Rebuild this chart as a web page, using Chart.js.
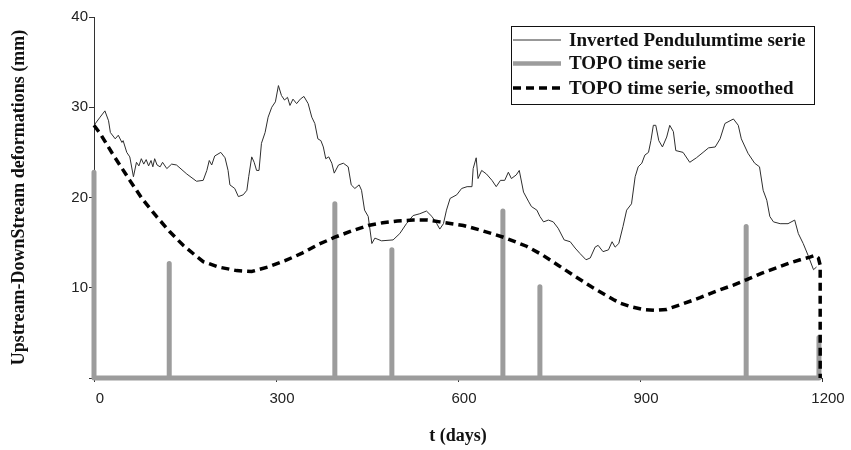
<!DOCTYPE html>
<html><head><meta charset="utf-8">
<script src="https://cdn.jsdelivr.net/npm/chart.js@4/dist/chart.umd.min.js"></script>
<style>html,body{margin:0;padding:0;background:#fff}#wrap{width:851px;height:450px}</style>
</head><body><div id="wrap"><canvas id="c" width="851" height="450"></canvas></div>
<script>
// ---- data ----
const seriesLabels = ['Inverted Pendulumtime serie', 'TOPO time serie', 'TOPO time serie, smoothed'];
const xTickValues = [0, 300, 600, 900, 1200];
const yTickValues = [0, 10, 20, 30, 40];

const pendT = [0,10,18,24,27,35,40,46,48,54,59,65,70,74,78,82,86,90,94,97,100,104,109,113,120,128,136,153,169,180,186,190,194,199,209,216,221,224,232,238,246,252,255,260,264,268,272,276,282,287,293,299,304,309,314,319,323,328,334,340,346,353,359,364,369,374,378,382,387,392,396,403,411,419,424,430,437,441,446,452,458,463,474,493,504,515,526,537,548,557,565,570,576,581,587,598,606,615,623,625,630,633,639,647,656,663,670,677,683,688,696,701,708,716,721,730,735,741,749,757,765,775,785,793,801,811,818,826,831,839,848,854,859,865,872,878,886,892,897,903,908,914,918,922,926,931,937,944,949,955,959,971,982,993,1004,1013,1024,1032,1040,1054,1062,1067,1078,1089,1097,1103,1109,1114,1120,1131,1144,1155,1161,1169,1177,1186,1191];
const pendV = [28.0,28.9,29.6,28.5,27.2,26.5,26.9,26.1,26.3,25.0,24.5,22.3,23.9,23.5,24.3,23.7,24.2,23.5,24.1,23.4,24.3,23.6,23.4,23.9,23.2,23.7,23.6,22.6,21.8,21.9,23.0,24.1,23.6,24.6,25.0,24.4,23.0,21.4,21.0,20.1,20.3,20.8,22.3,24.5,23.9,23.0,23.0,26.0,27.2,28.9,30.0,30.6,32.4,31.3,30.8,31.1,30.2,30.9,30.4,30.9,31.2,30.4,28.9,28.2,26.5,26.3,25.6,24.3,24.5,23.8,22.7,23.6,23.8,23.4,21.4,21.0,21.4,20.8,18.6,17.9,14.9,15.5,15.2,15.3,16.0,17.1,18.0,18.2,18.5,17.9,17.1,16.5,17.1,18.6,19.9,20.3,21.0,21.2,21.2,23.2,24.4,22.1,23.0,22.6,21.9,21.2,21.9,21.9,22.8,22.1,22.5,23.0,20.6,19.6,19.0,18.6,17.9,17.3,17.5,17.3,16.6,15.3,15.1,14.4,13.8,13.1,13.3,14.5,14.7,14.0,14.2,15.1,14.5,14.9,16.8,18.6,19.3,22.3,23.4,23.8,24.7,25.0,26.3,28.0,28.0,26.3,25.6,26.7,28.0,27.3,25.2,25.0,23.9,24.4,25.0,25.5,25.6,26.5,28.2,28.7,28.0,26.5,24.9,23.8,23.4,20.8,19.7,17.9,17.3,17.1,17.1,17.5,16.0,14.9,13.6,12.0,12.3];

const topoT = [0,124,397,491,674,735,1075,1195];
const topoV = [22.8,12.7,19.3,14.2,18.5,10.1,16.8,4.5];

const smoothT = [0,10,30,59,80,103,125,147,165,180,205,235,260,287,315,342,370,397,425,452,476,500,526,550,570,609,636,675,713,740,765,792,820,856,867,885,905,925,944,970,999,1025,1054,1076,1100,1125,1145,1164,1180,1188,1194,1197,1197];
const smoothV = [28.0,27.1,24.9,21.9,19.8,17.9,16.2,14.7,13.7,12.9,12.3,11.9,11.8,12.3,13.0,13.8,14.8,15.6,16.3,16.9,17.2,17.4,17.5,17.5,17.3,16.9,16.4,15.6,14.6,13.6,12.5,11.3,10.1,8.7,8.3,7.9,7.6,7.5,7.6,8.2,8.9,9.6,10.3,10.9,11.6,12.2,12.7,13.1,13.4,13.6,13.3,12.5,0];

// ---- build point lists ----
const pendPts = pendT.map((t, i) => ({x: t, y: pendV[i]}));
const smoothPts = smoothT.map((t, i) => ({x: t, y: smoothV[i]}));
const topoPts = [];
topoT.forEach((t, i) => {
  if (i === 0) { topoPts.push({x: t, y: topoV[i]}, {x: t, y: 0}); }
  else { topoPts.push({x: t, y: 0}, {x: t, y: topoV[i]}, {x: t, y: 0}); }
});

const legendPlugin = {
  id: 'boxLegend',
  afterDraw(chart) {
    const ctx = chart.ctx;
    ctx.save();
    ctx.strokeStyle = '#111';
    ctx.lineWidth = 1;
    ctx.setLineDash([]);
    ctx.strokeRect(511.5, 26.5, 303, 78);
    const rows = [40, 63.5, 88];
    const styles = [
      {c: '#333', w: 1, d: []},
      {c: '#9c9c9c', w: 4.5, d: []},
      {c: '#000', w: 3.5, d: [8, 5]}
    ];
    ctx.font = 'bold 19px "Liberation Serif"';
    ctx.textBaseline = 'middle';
    ctx.fillStyle = '#111';
    rows.forEach((y, i) => {
      ctx.beginPath();
      ctx.strokeStyle = styles[i].c;
      ctx.lineWidth = styles[i].w;
      ctx.setLineDash(styles[i].d);
      ctx.moveTo(513, y); ctx.lineTo(561, y);
      ctx.stroke();
      ctx.setLineDash([]);
      ctx.fillText(chart.data.datasets[i].label, 569, y + 1);
    });
    ctx.restore();
  }
};

new Chart(document.getElementById('c'), {
  type: 'line',
  data: {
    datasets: [
      {label: seriesLabels[0], data: pendPts, borderColor: '#2e2e2e', borderWidth: 1, pointRadius: 0, tension: 0, order: 1},
      {label: seriesLabels[1], data: topoPts, borderColor: '#9c9c9c', borderWidth: 5, pointRadius: 0, tension: 0, order: 2, clip: false, borderJoinStyle: 'round', borderCapStyle: 'butt'},
      {label: seriesLabels[2], data: smoothPts, borderColor: '#000', borderWidth: 3.5, borderDash: [8, 5], pointRadius: 0, tension: 0, order: 0, clip: false}
    ]
  },
  options: {
    responsive: false,
    devicePixelRatio: 1,
    animation: false,
    layout: {padding: {left: 0, top: 17, right: 29, bottom: 0}},
    plugins: {legend: {display: false}, tooltip: {enabled: false}},
    scales: {
      x: {
        type: 'linear', min: 0, max: 1200,
        afterBuildTicks: s => { s.ticks = xTickValues.map(v => ({value: v})); },
        afterFit: s => { s.height = 72; },
        grid: {drawOnChartArea: false, drawTicks: true, tickLength: 4, color: '#333'},
        border: {display: true, color: '#333', width: 1},
        ticks: {font: {family: '"Liberation Sans"', size: 15}, color: '#222', padding: 8, maxRotation: 0, labelOffset: 6, callback: v => String(v)},
        title: {display: true, text: 't (days)', font: {family: '"Liberation Serif"', weight: 'bold', size: 18}, color: '#111', padding: {top: 0, bottom: 3}}
      },
      y: {
        min: 0, max: 40,
        afterBuildTicks: s => { s.ticks = yTickValues.map(v => ({value: v})); },
        afterFit: s => { s.width = 94; },
        grid: {drawOnChartArea: false, drawTicks: true, tickLength: 5, color: '#333'},
        border: {display: true, color: '#333', width: 1},
        ticks: {font: {family: '"Liberation Sans"', size: 15}, color: '#222', padding: 1, callback: v => v === 0 ? '' : String(v)},
        title: {display: true, text: 'Upstream-DownStream deformations (mm)', font: {family: '"Liberation Serif"', weight: 'bold', size: 18}, color: '#111', padding: {top: 9, bottom: 0}}
      }
    }
  },
  plugins: [legendPlugin]
});
</script>
</body></html>
